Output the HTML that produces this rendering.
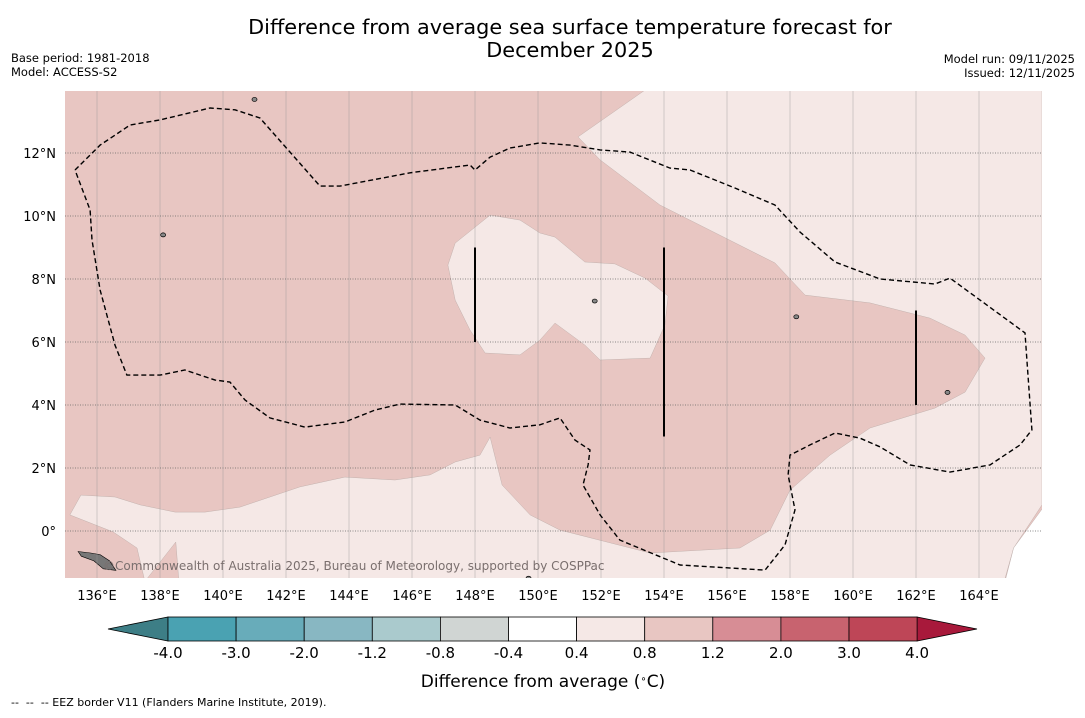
<!DOCTYPE html>
<html><head><meta charset="utf-8">
<style>
body{margin:0;background:#fff;font-family:"Liberation Sans","DejaVu Sans",sans-serif;}
svg text{font-family:"DejaVu Sans","Liberation Sans",sans-serif;}
</style></head>
<body>
<svg id="c" width="1085" height="713" viewBox="0 0 1085 713">
<text x="570" y="34" text-anchor="middle" font-size="20.8">Difference from average sea surface temperature forecast for</text>
<text x="570" y="57" text-anchor="middle" font-size="20.8">December 2025</text>
<text x="11" y="62" font-size="11.5">Base period: 1981-2018</text>
<text x="11" y="76" font-size="11.5">Model: ACCESS-S2</text>
<text x="1075" y="63" font-size="11.5" text-anchor="end">Model run: 09/11/2025</text>
<text x="1075" y="77" font-size="11.5" text-anchor="end">Issued: 12/11/2025</text>
<defs><clipPath id="mapclip"><rect x="65" y="91" width="977" height="487"/></clipPath></defs>
<g id="map" clip-path="url(#mapclip)">
<rect x="65" y="91" width="977" height="487" fill="#e8c6c2"/>
</g>
<g id="grid"></g>
<g id="axes"></g>
<g id="cbar"></g>
<text x="543" y="687" text-anchor="middle" font-size="17">Difference from average (<tspan baseline-shift="super" font-size="10">∘</tspan>C)</text>
<text x="11" y="706" font-size="11">-- &#160;-- &#160;-- EEZ border V11 (Flanders Marine Institute, 2019).</text>
</svg>
<script>
const lonTicks=[136,138,140,142,144,146,148,150,152,154,156,158,160,162,164];
const latTicks=[0,2,4,6,8,10,12];
const lightRegion=[[153.4,14.0],[166,14.0],[166,0.83],[165.1,-0.54],[164.8,-1.6],[138.6,-1.6],[138.5,-0.35],[137.52,-1.6],[137.27,-0.54],[136.51,-0.03],[135.14,0.51],[135.49,1.14],[136.57,1.08],[137.37,0.83],[138.48,0.6],[139.43,0.6],[140.54,0.76],[142.44,1.4],[143.87,1.71],[145.46,1.62],[146.57,1.78],[147.37,2.19],[148.16,2.41],[148.48,2.98],[148.86,1.46],[149.75,0.51],[150.7,0.03],[153.56,-0.7],[156.41,-0.54],[157.37,0.03],[158.0,1.3],[159.27,2.41],[160.54,3.27],[162.6,3.9],[163.56,4.41],[164.19,5.49],[163.56,6.22],[162.44,6.76],[160.54,7.24],[158.48,7.49],[157.52,8.51],[153.87,10.35],[151.97,11.78],[151.27,12.51]];
const noDataRegion=[[166.1,0.83],[165.1,-0.54],[164.8,-1.7],[166.1,-1.7]];
const lightIsland=[[148.48,10.03],[149.43,9.87],[150.06,9.46],[150.54,9.33],[151.49,8.54],[152.44,8.48],[153.4,8.03],[154.13,7.46],[154.03,6.54],[153.56,5.49],[151.97,5.43],[151.49,5.9],[150.54,6.6],[150.06,6.06],[149.43,5.59],[148.32,5.65],[147.84,6.38],[147.37,7.33],[147.14,8.44],[147.37,9.14]];
const eezLine=[[135.30,11.46],[136.10,12.25],[137.05,12.89],[138.0,13.05],[139.59,13.43],[140.38,13.37],[141.17,13.11],[143.08,10.95],[143.71,10.95],[145.94,11.37],[147.84,11.62],[148.0,11.46],[148.48,11.87],[149.11,12.16],[150.06,12.32],[151.02,12.25],[151.97,12.1],[152.92,12.03],[154.19,11.52],[154.83,11.46],[156.25,10.89],[157.52,10.35],[158.32,9.49],[159.43,8.54],[160.86,8.0],[162.6,7.84],[163.08,8.03],[165.46,6.29],[165.52,5.43],[165.68,3.21],[165.3,2.73],[164.35,2.1],[163.08,1.87],[161.81,2.1],[160.86,2.67],[160.22,2.95],[159.43,3.11],[158.63,2.73],[158.0,2.41],[157.94,1.78],[158.16,0.67],[157.84,-0.44],[157.21,-1.24],[154.51,-1.08],[152.6,-0.29],[151.97,0.51],[151.43,1.46],[151.59,2.1],[151.65,2.57],[151.17,2.89],[150.7,3.59],[150.06,3.37],[149.11,3.27],[148.16,3.52],[147.37,4.0],[145.62,4.03],[144.83,3.84],[143.87,3.46],[142.6,3.3],[141.49,3.59],[140.7,4.16],[140.22,4.73],[139.75,4.79],[138.79,5.11],[138.0,4.95],[136.95,4.95],[136.57,5.9],[136.1,7.65],[135.84,9.24],[135.78,10.19],[135.30,11.46]];
const markerLons=[148,154,162];
const markerLatTop=[9,9,7];
const markerLatBot=[6,3,4];
const islands=[[141.0,13.7],[138.1,9.4],[158.2,6.8],[163.0,4.4],[151.8,7.3],[149.7,-1.5]];
const bigIsland=[[135.4,-0.65],[135.8,-0.7],[136.1,-0.75],[136.4,-0.95],[136.6,-1.25],[136.2,-1.2],[135.9,-0.95],[135.5,-0.8]];
const cbLevels=["-4.0","-3.0","-2.0","-1.2","-0.8","-0.4","0.4","0.8","1.2","2.0","3.0","4.0"];
const cbColors=["#4aa2b2","#68acba","#88b7c2","#aacacd","#d0d5d3","#ffffff","#f5e8e6","#e8c6c2","#d78d95","#c8636f","#be4657"];
const NS="http://www.w3.org/2000/svg";
const X=lon=>97+(lon-136)*31.5, Y=lat=>531-lat*31.5;
function mk(t,a,p){const e=document.createElementNS(NS,t);for(const k in a)e.setAttribute(k,a[k]);p.appendChild(e);return e;}
const map=document.getElementById('map'),grid=document.getElementById('grid'),axes=document.getElementById('axes'),cb=document.getElementById('cbar');
const pts=a=>a.map(p=>X(p[0]).toFixed(1)+','+Y(p[1]).toFixed(1)).join(' ');
let e=mk('polygon',{points:pts(lightRegion),fill:'#f5e8e6',stroke:'#b8a8a5','stroke-width':0.4},map);


e=mk('polygon',{points:pts(noDataRegion),fill:'#ffffff',stroke:'#b8a8a5','stroke-width':0.4},map);


e=mk('polygon',{points:pts(lightIsland),fill:'#f5e8e6',stroke:'#b8a8a5','stroke-width':0.4},map);


e=mk('polygon',{points:pts(bigIsland),fill:'#777',stroke:'#000','stroke-width':0.6},map);


islands.forEach(p=>{const s=mk('ellipse',{cx:X(p[0]),cy:Y(p[1]),rx:2.5,ry:2,fill:'#888',stroke:'#000','stroke-width':0.7},map);

});
lonTicks.forEach(l=>{const g=mk('line',{x1:X(l),x2:X(l),y1:91,y2:578,stroke:'#999','stroke-width':0.6,'stroke-opacity':0.7},grid);


const t=mk('text',{x:X(l),y:600,'text-anchor':'middle','font-size':13},axes);t.textContent=l+'°E';

});
latTicks.forEach(l=>{const g=mk('line',{x1:65,x2:1042,y1:Y(l),y2:Y(l),stroke:'#666','stroke-width':0.8,'stroke-dasharray':'1,1.5'},grid);


const t=mk('text',{x:56,y:Y(l)+5,'text-anchor':'end','font-size':13},axes);t.textContent=l===0?'0°':l+'°N';

});
e=mk('polyline',{points:pts(eezLine),fill:'none',stroke:'#000','stroke-width':1.4,'stroke-dasharray':'5,3'},grid);


markerLons.forEach((l,i)=>{const m=mk('line',{x1:X(l),x2:X(l),y1:Y(markerLatTop[i]),y2:Y(markerLatBot[i]),stroke:'#000','stroke-width':2},grid);

});
e=mk('text',{x:103,y:570,'font-size':12,fill:'#7a6f6e'},grid);e.textContent='©Commonwealth of Australia 2025, Bureau of Meteorology, supported by COSPPac';


const cx0=168,cw=68.1,cy=617,ch=24;
e=mk('polygon',{points:`108,${cy+ch/2} ${cx0},${cy} ${cx0},${cy+ch}`,fill:'#3d7e86',stroke:'#000','stroke-width':0.8},cb);


const xe=cx0+cw*cbColors.length;
e=mk('polygon',{points:`${xe},${cy} 977,${cy+ch/2} ${xe},${cy+ch}`,fill:'#a8193b',stroke:'#000','stroke-width':0.8},cb);


cbColors.forEach((c,i)=>{const r=mk('rect',{x:cx0+i*cw,y:cy,width:cw,height:ch,fill:c,stroke:'#000','stroke-width':0.8},cb);

});
cbLevels.forEach((v,i)=>{const t=mk('text',{x:cx0+i*cw,y:658,'text-anchor':'middle','font-size':15},cb);t.textContent=v;

});
</script>
</body></html>
